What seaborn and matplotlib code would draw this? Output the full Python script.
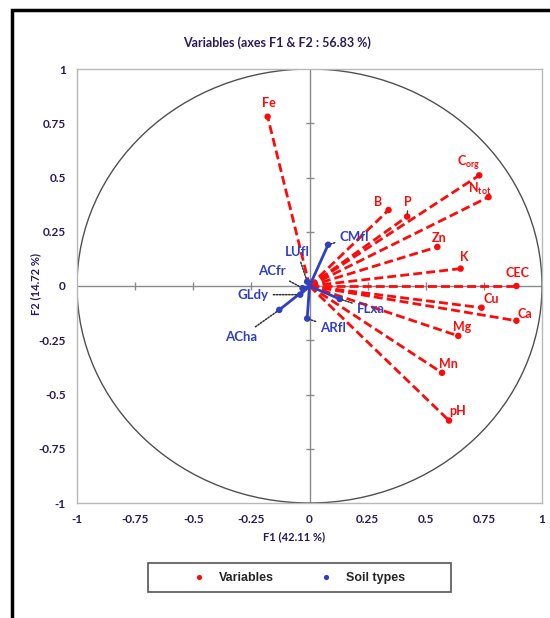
import matplotlib
matplotlib.use("Agg")
import matplotlib.pyplot as plt
import seaborn as sns
import pandas as pd
from matplotlib.patches import Ellipse, Rectangle

# active variables (correlation circle coordinates)
var_names = ["Fe", "Corg", "Ntot", "B", "P", "Zn", "K", "CEC", "Cu", "Ca", "Mg", "Mn", "pH"]
var_f1 = [-0.18, 0.73, 0.77, 0.34, 0.42, 0.55, 0.65, 0.89, 0.74, 0.89, 0.64, 0.57, 0.60]
var_f2 = [0.78, 0.51, 0.41, 0.35, 0.32, 0.18, 0.08, 0.00, -0.10, -0.16, -0.23, -0.40, -0.62]

# supplementary soil types
soil_names = ["CMfl", "LUfl", "ACfr", "GLdy", "ACha", "ARfl", "FLxa"]
soil_f1 = [0.08, -0.01, -0.03, -0.04, -0.13, -0.01, 0.13]
soil_f2 = [0.19, 0.02, -0.01, -0.04, -0.11, -0.15, -0.06]

ticks = [-1, -0.75, -0.5, -0.25, 0, 0.25, 0.5, 0.75, 1]
tick_labels = ["-1", "-0.75", "-0.5", "-0.25", "0", "0.25", "0.5", "0.75", "1"]

RED = "#ff0a0a"
BLUE = "#3040c0"
DARK = "#2a1a5a"

# label placement (offset in pixels from the point) and leader lines
var_offsets = {"Fe": (1, 14), "Corg": (-11, 13), "Ntot": (-9, 8), "B": (-10, 8),
               "P": (1, 15), "Zn": (2, 9), "K": (4, 12), "CEC": (1, 13),
               "Cu": (10, 9), "Ca": (8, 7), "Mg": (4, 9), "Mn": (6, 9), "pH": (9, 10)}
var_leader = {"Corg", "P"}
soil_offsets = {"CMfl": (26, 8), "LUfl": (-10, 30), "ACfr": (-31, 17), "GLdy": (-47, 0),
                "ACha": (-38, -27), "ARfl": (26, -9), "FLxa": (31, -10)}
pretty = {"Corg": r"$\mathbf{C}_{\mathbf{org}}$", "Ntot": r"$\mathbf{N}_{\mathbf{tot}}$"}

sns.set_style("white")
plt.rcParams["font.family"] = ["Lato", "DejaVu Sans"]
plt.rcParams["mathtext.fontset"] = "custom"
plt.rcParams["mathtext.bf"] = "Lato:bold"
plt.rcParams["mathtext.rm"] = "Lato:bold"

df = pd.DataFrame({
    "F1": var_f1 + soil_f1,
    "F2": var_f2 + soil_f2,
    "group": ["Variables"] * len(var_names) + ["Soil types"] * len(soil_names),
})

fig = plt.figure(figsize=(5.5, 6.18), dpi=100)
ax = fig.add_axes([77 / 550, 115 / 618, 465 / 550, 434 / 618])

# zero axes with small cross ticks
ax.axhline(0, color="#8a8a8a", lw=1, zorder=1)
ax.axvline(0, color="#8a8a8a", lw=1, zorder=1)
inner = [t for t in ticks if t not in (-1, 0, 1)]
ax.plot(inner, [0] * len(inner), ls="none", marker="|", ms=6, color="#8a8a8a", zorder=1)
ax.plot([0] * len(inner), inner, ls="none", marker="_", ms=6, color="#8a8a8a", zorder=1)

ax.add_patch(Ellipse((0, 0), 2, 2, fill=False, ec="#505050", lw=1, zorder=1))

for x, y in zip(var_f1, var_f2):
    ax.plot([0, x], [0, y], color=RED, lw=2, ls=(0, (3.2, 1.5)), zorder=2)
for x, y in zip(soil_f1, soil_f2):
    ax.plot([0, x], [0, y], color=BLUE, lw=2, zorder=3)

sns.scatterplot(data=df, x="F1", y="F2", hue="group",
                palette={"Variables": RED, "Soil types": BLUE},
                s=22, edgecolor="none", ax=ax, zorder=4)

for name, x, y in zip(var_names, var_f1, var_f2):
    arrow = dict(arrowstyle="-", color="#404040", lw=1, shrinkA=0, shrinkB=2) if name in var_leader else None
    ax.annotate(pretty.get(name, name), (x, y), xytext=var_offsets[name],
                textcoords="offset pixels", ha="center", va="center",
                color=RED, fontsize=9, fontweight="bold", arrowprops=arrow, zorder=5)

for name, x, y in zip(soil_names, soil_f1, soil_f2):
    ax.annotate(name, (x, y), xytext=soil_offsets[name], textcoords="offset pixels",
                ha="center", va="center", color=BLUE, fontsize=9.5, fontweight="bold",
                arrowprops=dict(arrowstyle="-", ls=(0, (1, 1)), color="#303030", lw=1.1,
                                shrinkA=1, shrinkB=2), zorder=5)

ax.set_xlim(-1, 1)
ax.set_ylim(-1, 1)
ax.set_xticks(ticks)
ax.set_yticks(ticks)
ax.set_xticklabels(tick_labels)
ax.set_yticklabels(tick_labels)
ax.tick_params(length=0, pad=8, labelsize=8.5, labelcolor=DARK)
for lab in ax.get_xticklabels() + ax.get_yticklabels():
    lab.set_fontweight("bold")
ax.set_xlabel("")
ax.set_ylabel("")
for sp in ax.spines.values():
    sp.set_color("#b8b8b8")
    sp.set_linewidth(1)

fig.text(277 / 550, 1 - 43 / 618, "Variables (axes F1 & F2 : 56.83 %)", ha="center", va="center",
         fontsize=9, fontweight="bold", color=DARK)
fig.text(294 / 550, 1 - 537 / 618, "F1 (42.11 %)", ha="center", va="center",
         fontsize=8, fontweight="bold", color=DARK)
fig.text(36 / 550, 1 - 284 / 618, "F2 (14.72 %)", ha="center", va="center", rotation=90,
         fontsize=8, fontweight="bold", color=DARK)

# legend below the plot
sns.move_legend(ax, loc="center", bbox_to_anchor=(296 / 550, 1 - 578 / 618),
                bbox_transform=fig.transFigure, ncol=2, title=None, frameon=False,
                prop={"family": "Liberation Sans", "weight": "bold", "size": 9},
                markerscale=0.8, columnspacing=3.2, handletextpad=0.6)
fig.add_artist(Rectangle((148 / 550, 1 - 592 / 618), 303 / 550, 29 / 618, fill=False,
                         ec="#555555", lw=1.2, transform=fig.transFigure))

# outer frame
fig.add_artist(Rectangle((12 / 550, -0.1), 1.2, 1.1 - 10 / 618, fill=False, ec="black",
                         lw=2.5, transform=fig.transFigure))

fig.savefig("out.png", dpi=100)
